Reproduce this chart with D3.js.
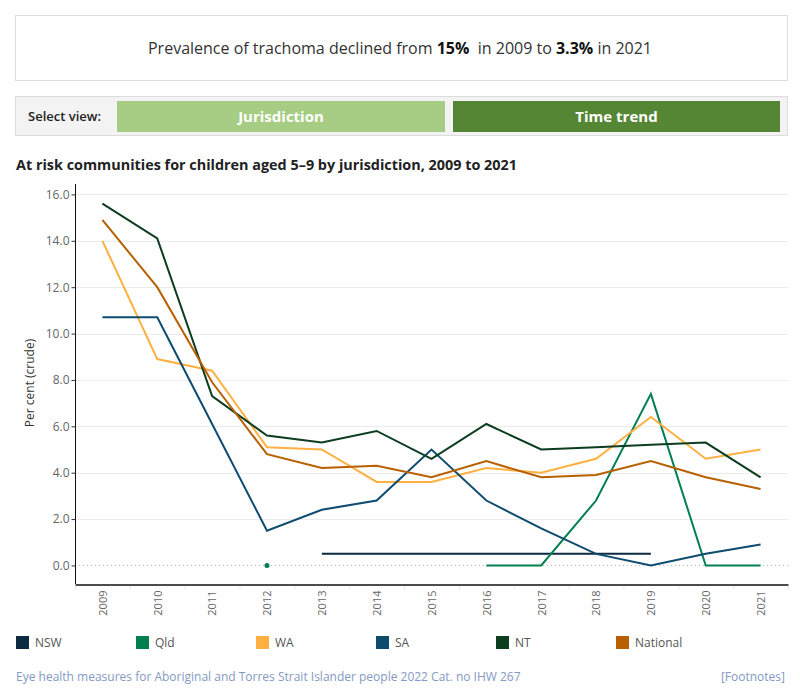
<!DOCTYPE html>
<html>
<head>
<meta charset="utf-8">
<script src="https://cdn.jsdelivr.net/npm/d3@7"></script>
<style>
  body { margin: 0; background: #fff; }
  text { font-family: "Open Sans", "Noto Sans", sans-serif; }
</style>
</head>
<body>
<div id="chart"></div>
<script>
// Data
const years = [2009, 2010, 2011, 2012, 2013, 2014, 2015, 2016, 2017, 2018, 2019, 2020, 2021];
const nsw = [null, null, null, null, 0.5, 0.5, 0.5, 0.5, 0.5, 0.5, 0.5, null, null];
const qld = [null, null, null, 0.0, null, null, null, 0.0, 0.0, 2.8, 7.4, 0.0, 0.0];
const wa = [14.0, 8.9, 8.4, 5.1, 5.0, 3.6, 3.6, 4.2, 4.0, 4.6, 6.4, 4.6, 5.0];
const sa = [10.7, 10.7, 6.1, 1.5, 2.4, 2.8, 5.0, 2.8, 1.6, 0.5, 0.0, 0.5, 0.9];
const nt = [15.6, 14.1, 7.3, 5.6, 5.3, 5.8, 4.6, 6.1, 5.0, 5.1, 5.2, 5.3, 3.8];
const national = [14.9, 12.0, 7.9, 4.8, 4.2, 4.3, 3.8, 4.5, 3.8, 3.9, 4.5, 3.8, 3.3];
const yTicks = [0, 2, 4, 6, 8, 10, 12, 14, 16];

const seriesNames = ["NSW", "Qld", "WA", "SA", "NT", "National"];
const seriesValues = [nsw, qld, wa, sa, nt, national];
const seriesColors = ["#0c2a42", "#00804f", "#ffb042", "#0d4c6f", "#0b3d1e", "#b85f00"];

const svg = d3.select("#chart")
  .append("svg")
    .attr("width", 800)
    .attr("height", 700);

// Header box
svg.append("rect")
    .attr("x", 15.5).attr("y", 15.5)
    .attr("width", 772).attr("height", 65)
    .attr("fill", "#fff").attr("stroke", "#dcdcdc");

const headline = svg.append("text")
    .attr("x", 400).attr("y", 54)
    .attr("text-anchor", "middle")
    .style("font-size", "16px")
    .style("white-space", "pre")
    .style("fill", "#333");
headline.append("tspan").text("Prevalence of trachoma declined from ");
headline.append("tspan").style("font-weight", "bold").style("fill", "#111").text("15%");
headline.append("tspan").text("  in 2009 to ");
headline.append("tspan").style("font-weight", "bold").style("fill", "#111").text("3.3%");
headline.append("tspan").text(" in 2021");

// Select view bar
svg.append("rect")
    .attr("x", 15.5).attr("y", 96.5)
    .attr("width", 772).attr("height", 39)
    .attr("fill", "#f3f3f3").attr("stroke", "#dcdcdc");

svg.append("text")
    .attr("x", 28).attr("y", 121)
    .style("font-size", "13px")
    .style("font-weight", "600")
    .style("fill", "#222")
    .text("Select view:");

const buttons = [
  {label: "Jurisdiction", x: 117, w: 328, color: "#a7cc84"},
  {label: "Time trend", x: 453, w: 327, color: "#558633"}
];
buttons.forEach(b => {
  svg.append("rect")
      .attr("x", b.x).attr("y", 101)
      .attr("width", b.w).attr("height", 31)
      .attr("fill", b.color);
  svg.append("text")
      .attr("x", b.x + b.w / 2).attr("y", 122)
      .attr("text-anchor", "middle")
      .style("font-size", "15px")
      .style("font-weight", "bold")
      .style("fill", "#fff")
      .text(b.label);
});

// Chart title
svg.append("text")
    .attr("x", 16).attr("y", 170)
    .style("font-size", "14.4px")
    .style("font-weight", "bold")
    .style("fill", "#222")
    .text("At risk communities for children aged 5–9 by jurisdiction, 2009 to 2021");

// Plot area
const plot = {left: 75, right: 788, top: 184, bottom: 584};

const x = d3.scalePoint()
    .domain(years)
    .range([plot.left, plot.right])
    .padding(0.5);

const y = d3.scaleLinear()
    .domain([-0.8, 16.45])
    .range([plot.bottom, plot.top]);

// Gridlines
svg.append("g")
  .selectAll("line")
  .data(yTicks.filter(d => d !== 0))
  .join("line")
    .attr("x1", plot.left).attr("x2", plot.right)
    .attr("y1", d => Math.round(y(d)) + 0.5)
    .attr("y2", d => Math.round(y(d)) + 0.5)
    .attr("stroke", "#ececec");

// Zero line (dotted)
svg.append("line")
    .attr("x1", plot.left).attr("x2", plot.right)
    .attr("y1", Math.round(y(0)) + 0.5).attr("y2", Math.round(y(0)) + 0.5)
    .attr("stroke", "#bbb")
    .attr("stroke-dasharray", "1,3");

// Y axis
const yAxis = svg.append("g")
    .attr("transform", `translate(${plot.left + 0.5},0)`)
    .call(d3.axisLeft(y).tickValues(yTicks).tickFormat(d3.format(".1f")).tickSize(4).tickSizeOuter(0));
yAxis.select(".domain").attr("stroke", "#111").attr("d", `M0,${plot.top}V${plot.bottom}`);
yAxis.selectAll(".tick line").attr("stroke", "#333");
yAxis.selectAll(".tick text")
    .style("font-size", "12px")
    .style("fill", "#666")
    .attr("x", -6);

// Y axis label
svg.append("text")
    .attr("transform", "rotate(-90)")
    .attr("x", -(plot.top + plot.bottom) / 2 + 1)
    .attr("y", 34)
    .attr("text-anchor", "middle")
    .style("font-size", "12px")
    .style("fill", "#333")
    .text("Per cent (crude)");

// X axis
const xAxis = svg.append("g")
    .attr("transform", `translate(0,${plot.bottom + 0.5})`)
    .call(d3.axisBottom(x).tickSize(0).tickSizeOuter(0));
xAxis.select(".domain").attr("stroke", "#111").attr("stroke-width", 1.5);
xAxis.selectAll(".tick text")
    .attr("transform", "rotate(-90)")
    .attr("text-anchor", "end")
    .attr("x", -6)
    .attr("y", 0)
    .attr("dy", "0.35em")
    .style("font-size", "11px")
    .style("fill", "#666");

// Small band separators under the x axis
const step = x.step();
svg.append("g")
  .selectAll("line")
  .data(years.concat([null]))
  .join("line")
    .attr("x1", (d, i) => plot.left + i * step + 0.5)
    .attr("x2", (d, i) => plot.left + i * step + 0.5)
    .attr("y1", plot.bottom + 2)
    .attr("y2", plot.bottom + 5)
    .attr("stroke", "#e4e4e4");

// Lines
const line = d3.line()
    .defined(d => d.v !== null)
    .x(d => x(d.year))
    .y(d => y(d.v));

seriesValues.forEach((vals, i) => {
  const pts = years.map((yr, j) => ({year: yr, v: vals[j]}));
  svg.append("path")
      .datum(pts)
      .attr("fill", "none")
      .attr("stroke", seriesColors[i])
      .attr("stroke-width", 2)
      .attr("d", line);

  // isolated points get a dot
  pts.forEach((p, j) => {
    const prev = j > 0 ? pts[j - 1].v : null;
    const next = j < pts.length - 1 ? pts[j + 1].v : null;
    if (p.v !== null && prev === null && next === null) {
      svg.append("circle")
          .attr("cx", x(p.year))
          .attr("cy", y(p.v))
          .attr("r", 2.5)
          .attr("fill", seriesColors[i]);
    }
  });
});

// Legend
seriesNames.forEach((name, i) => {
  svg.append("rect")
      .attr("x", 16 + i * 120)
      .attr("y", 636)
      .attr("width", 13).attr("height", 13)
      .attr("fill", seriesColors[i]);
  svg.append("text")
      .attr("x", 35 + i * 120)
      .attr("y", 647)
      .style("font-size", "12px")
      .style("fill", "#555")
      .text(name);
});

// Footer
svg.append("text")
    .attr("x", 16).attr("y", 681)
    .style("font-size", "12px")
    .style("fill", "#8499c4")
    .text("Eye health measures for Aboriginal and Torres Strait Islander people 2022 Cat. no IHW 267");

svg.append("text")
    .attr("x", 785).attr("y", 681)
    .attr("text-anchor", "end")
    .style("font-size", "12px")
    .style("fill", "#8499c4")
    .text("[Footnotes]");
</script>
</body>
</html>
